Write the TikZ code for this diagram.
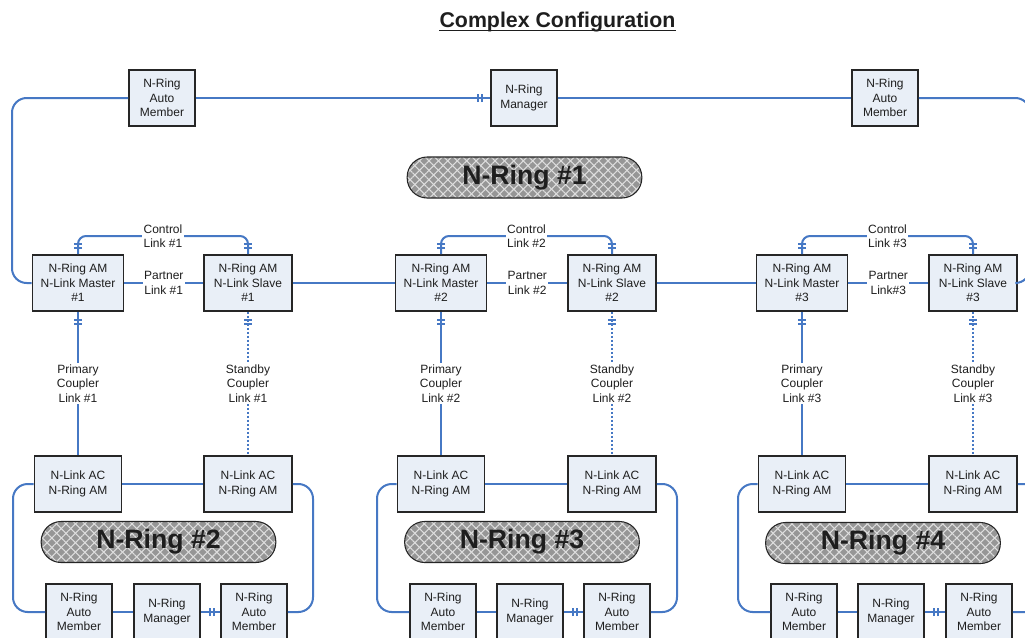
\documentclass[tikz,border=0pt]{standalone}
\usepackage{fontspec}
\setmainfont{Liberation Sans}
\usetikzlibrary{calc,decorations.markings,patterns.meta}

\definecolor{linkblue}{RGB}{70,120,196}
\definecolor{boxfill}{RGB}{233,239,247}
\definecolor{boxline}{RGB}{38,38,38}
\definecolor{txt}{RGB}{30,30,30}
\definecolor{ovalgray}{RGB}{150,150,150}
\definecolor{ovalline}{RGB}{222,222,222}

\tikzset{every picture/.style={line width=0.75pt}}
\tikzset{
  dev/.style={draw=boxline, line width=1.3pt, fill=boxfill, align=center, inner sep=0pt, text=txt, font=\fontsize{9}{10.8}\selectfont, minimum width=#1, minimum height=42pt},
  dev/.default=49.5pt,
  lbl/.style={fill=white, inner sep=1pt, align=center, text=txt, font=\fontsize{9}{10.8}\selectfont},
  link/.style={draw=linkblue, line width=1.5pt},
  standby/.style={link, dash pattern=on 1.5pt off 1.5pt},
  dbl/.style={postaction={decorate, decoration={markings, mark=at position #1 with {\draw[solid, draw=linkblue, line width=1.3pt] (-1.5pt,-3pt) -- (-1.5pt,3pt) (1.5pt,-3pt) -- (1.5pt,3pt);}}}},
  ringoval/.style={draw=boxline, line width=0.8pt, rounded corners=15pt, minimum width=176pt, minimum height=30.75pt, inner sep=0pt,
    preaction={fill=ovalgray},
    preaction={pattern={Lines[angle=45,distance=5pt,line width=0.8pt]}, pattern color=ovalline},
    preaction={pattern={Lines[angle=-45,distance=5pt,line width=0.8pt]}, pattern color=ovalline},
    text=txt, font=\bfseries\fontsize{20}{24}\selectfont},
}

\begin{document}
\begin{tikzpicture}[x=0.75pt,y=0.75pt,yscale=-1,xscale=1]
\path[use as bounding box, fill=white] (0,0) rectangle (1025,637);

% Title
\node[anchor=base, inner sep=0pt, text=txt, font=\bfseries\fontsize{16}{19}\selectfont] (title) at (557.5,27) {Complex Configuration};
\draw[line width=1.1pt, draw=txt] ($(title.base west)+(0,3.5)$) -- ($(title.base east)+(0,3.5)$);

%Shape: Rectangle (N-Ring #1 members)
\node[dev] (r1am1) at (162,98) {N-Ring\\Auto\\Member};
\node[dev] (r1mgr) at (524,98) {N-Ring\\Manager};
\node[dev] (r1am2) at (885,98) {N-Ring\\Auto\\Member};
%Shape: Oval
\node[ringoval] (oval1) at (524.5,177.5) {N-Ring \#1};

%Shape: Rectangle (master / slave)
\node[dev=68.25pt] (mst1) at (78,283) {N-Ring AM\\N-Link Master\\\#1};
\node[dev=66pt] (slv1) at (248,283) {N-Ring AM\\N-Link Slave\\\#1};
\node[dev=68.25pt] (mst2) at (441,283) {N-Ring AM\\N-Link Master\\\#2};
\node[dev=66pt] (slv2) at (612,283) {N-Ring AM\\N-Link Slave\\\#2};
\node[dev=68.25pt] (mst3) at (802,283) {N-Ring AM\\N-Link Master\\\#3};
\node[dev=66pt] (slv3) at (973,283) {N-Ring AM\\N-Link Slave\\\#3};

%Shape: Rectangle (N-Link AC)
\node[dev=65.25pt] (r2ac1) at (78,484) {N-Link AC\\N-Ring AM};
\node[dev=66pt] (r2ac2) at (248,484) {N-Link AC\\N-Ring AM};
\node[dev=65.25pt] (r3ac1) at (441,484) {N-Link AC\\N-Ring AM};
\node[dev=66pt] (r3ac2) at (612,484) {N-Link AC\\N-Ring AM};
\node[dev=65.25pt] (r4ac1) at (802,484) {N-Link AC\\N-Ring AM};
\node[dev=66pt] (r4ac2) at (973,484) {N-Link AC\\N-Ring AM};

%Shape: Oval
\node[ringoval] (oval2) at (158.5,542) {N-Ring \#2};
\node[ringoval] (oval3) at (522,542) {N-Ring \#3};
\node[ringoval] (oval4) at (883,543) {N-Ring \#4};

%Shape: Rectangle (lower rings)
\node[dev] (r2am1) at (79,612) {N-Ring\\Auto\\Member};
\node[dev] (r2mgr) at (167,612) {N-Ring\\Manager};
\node[dev] (r2am2) at (254,612) {N-Ring\\Auto\\Member};
\node[dev] (r3am1) at (443,612) {N-Ring\\Auto\\Member};
\node[dev] (r3mgr) at (530,612) {N-Ring\\Manager};
\node[dev] (r3am2) at (617,612) {N-Ring\\Auto\\Member};
\node[dev] (r4am1) at (804,612) {N-Ring\\Auto\\Member};
\node[dev] (r4mgr) at (891,612) {N-Ring\\Manager};
\node[dev] (r4am2) at (979,612) {N-Ring\\Auto\\Member};

%Straight Lines (N-Ring #1)
\draw[link, rounded corners=11pt] (mst1.west) -| (12,98) -- (r1am1.west);
\draw[link, dbl=-7.5pt] (r1am1.east) -- (r1mgr.west);
\draw[link] (r1mgr.east) -- (r1am2.west);
\draw[link, rounded corners=11pt] (r1am2.east) -| (1030,283) -- (slv3.east);
\draw[link] (mst1.east) -- node[lbl] (pl1) {Partner\\Link \#1} (slv1.west);
\draw[link] (slv1.east) -- (mst2.west);
\draw[link] (mst2.east) -- node[lbl] (pl2) {Partner\\Link \#2} (slv2.west);
\draw[link] (slv2.east) -- (mst3.west);
\draw[link] (mst3.east) -- node[lbl] (pl3) {Partner\\Link\#3} (slv3.west);

%Straight Lines (control links)
\draw[link, rounded corners=6pt, dbl=6pt, dbl=-6pt] (mst1.north) |- (163,236) -| (slv1.north);
\draw[link, rounded corners=6pt, dbl=6pt, dbl=-6pt] (mst2.north) |- (526.5,236) -| (slv2.north);
\draw[link, rounded corners=6pt, dbl=6pt, dbl=-6pt] (mst3.north) |- (887.5,236) -| (slv3.north);
% Text Node
\node[lbl] (cl1) at (163,236) {Control\\Link \#1};
\node[lbl] (cl2) at (526.5,236) {Control\\Link \#2};
\node[lbl] (cl3) at (887.5,236) {Control\\Link \#3};

%Straight Lines (coupler links)
\draw[link, dbl=7.5pt] (mst1.south) -- node[lbl] (pc1) {Primary\\Coupler\\Link \#1} (r2ac1.north);
\draw[standby, dbl=7.5pt] (slv1.south) -- node[lbl] (sc1) {Standby\\Coupler\\Link \#1} (r2ac2.north);
\draw[link, dbl=7.5pt] (mst2.south) -- node[lbl] (pc2) {Primary\\Coupler\\Link \#2} (r3ac1.north);
\draw[standby, dbl=7.5pt] (slv2.south) -- node[lbl] (sc2) {Standby\\Coupler\\Link \#2} (r3ac2.north);
\draw[link, dbl=7.5pt] (mst3.south) -- node[lbl] (pc3) {Primary\\Coupler\\Link \#3} (r4ac1.north);
\draw[standby, dbl=7.5pt] (slv3.south) -- node[lbl] (sc3) {Standby\\Coupler\\Link \#3} (r4ac2.north);

%Straight Lines (N-Ring #2)
\draw[link] (r2ac1.east) -- (r2ac2.west);
\draw[link, rounded corners=11pt] (r2ac2.east) -| (313,612) -- (r2am2.east);
\draw[link, dbl=8.25pt] (r2mgr.east) -- (r2am2.west);
\draw[link] (r2am1.east) -- (r2mgr.west);
\draw[link, rounded corners=11pt] (r2am1.west) -| (13,484) -- (r2ac1.west);

%Straight Lines (N-Ring #3)
\draw[link] (r3ac1.east) -- (r3ac2.west);
\draw[link, rounded corners=11pt] (r3ac2.east) -| (677,612) -- (r3am2.east);
\draw[link, dbl=8.25pt] (r3mgr.east) -- (r3am2.west);
\draw[link] (r3am1.east) -- (r3mgr.west);
\draw[link, rounded corners=11pt] (r3am1.west) -| (377,484) -- (r3ac1.west);

%Straight Lines (N-Ring #4)
\draw[link] (r4ac1.east) -- (r4ac2.west);
\draw[link, rounded corners=11pt] (r4ac2.east) -| (1040,612) -- (r4am2.east);
\draw[link, dbl=8.25pt] (r4mgr.east) -- (r4am2.west);
\draw[link] (r4am1.east) -- (r4mgr.west);
\draw[link, rounded corners=11pt] (r4am1.west) -| (738,484) -- (r4ac1.west);

\end{tikzpicture}
\end{document}
